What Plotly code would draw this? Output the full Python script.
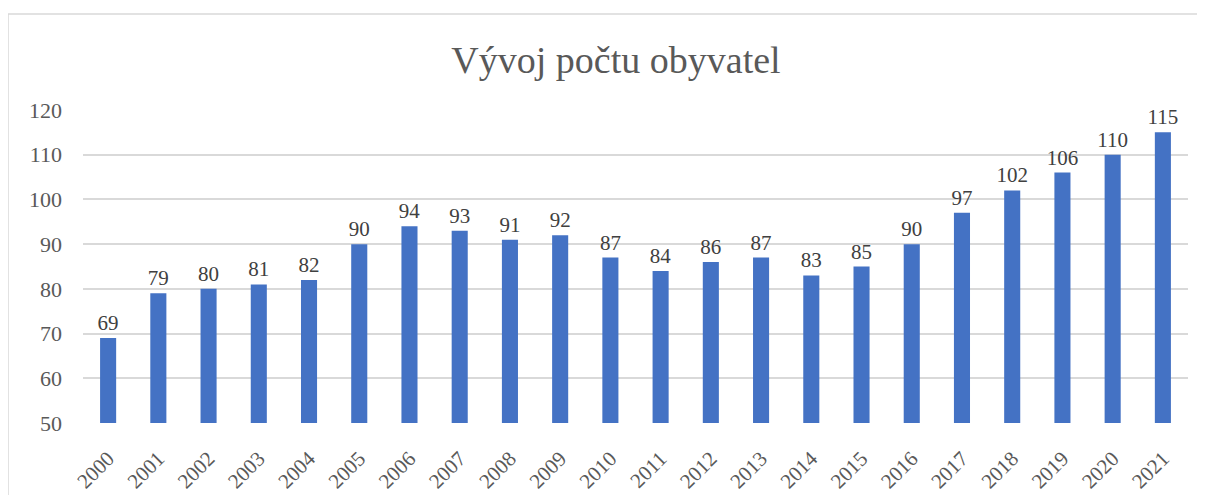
import plotly.graph_objects as go

years = [str(y) for y in range(2000, 2022)]
values = [69, 79, 80, 81, 82, 90, 94, 93, 91, 92, 87, 84, 86, 87, 83, 85, 90, 97, 102, 106, 110, 115]
title_text = "Vývoj počtu obyvatel"

FONT = "Liberation Serif, Times New Roman, serif"
# page has 8px body margin; figure origin at (8, 8) in the screenshot
OFF = 8
W, H = 1189, 487
L = 83 - OFF
T = 110 - OFF
R = W - (1188 - OFF)
B = H - (423 - OFF)
pw = W - L - R
ph = H - T - B

fig = go.Figure(go.Bar(
    x=years, y=values,
    marker=dict(color="#4472C4", line=dict(width=0)),
    text=[str(v) for v in values], textposition="outside",
    constraintext="none",
    textfont=dict(family=FONT, size=21, color="#404040"),
    cliponaxis=False,
))

fig.update_layout(
    width=W, height=H,
    margin=dict(l=L, r=R, t=T, b=B, autoexpand=False),
    paper_bgcolor="white", plot_bgcolor="white",
    bargap=0.68,
    showlegend=False,
    title=dict(text=title_text, x=(616 - OFF) / W, xanchor="center", y=1 - (60 - OFF) / H, yanchor="middle",
               font=dict(family=FONT, size=38, color="#595959")),
    xaxis=dict(type="category", tickangle=-45, showgrid=False, showline=False, automargin=False,
               ticks="outside", ticklen=14, tickcolor="rgba(0,0,0,0)",
               tickfont=dict(family=FONT, size=21, color="#595959")),
    yaxis=dict(range=[50, 120], dtick=10, showgrid=True, gridcolor="#D9D9D9", gridwidth=1.5,
               zeroline=False, showline=False, ticks="", ticklabelstandoff=20, automargin=False,
               tickfont=dict(family=FONT, size=22, color="#595959")),
    font=dict(family=FONT),
)

x0 = (8 - OFF - L) / pw
x1 = (1260 - OFF - L) / pw
y1 = (H - B - (14 - OFF)) / ph
y0 = (H - B - (540 - OFF)) / ph
fig.add_shape(type="rect", xref="paper", yref="paper", x0=x0, x1=x1, y0=y0, y1=y1,
              line=dict(color="#D9D9D9", width=1.5), fillcolor="rgba(0,0,0,0)", layer="below")

fig.write_html("out.html")
